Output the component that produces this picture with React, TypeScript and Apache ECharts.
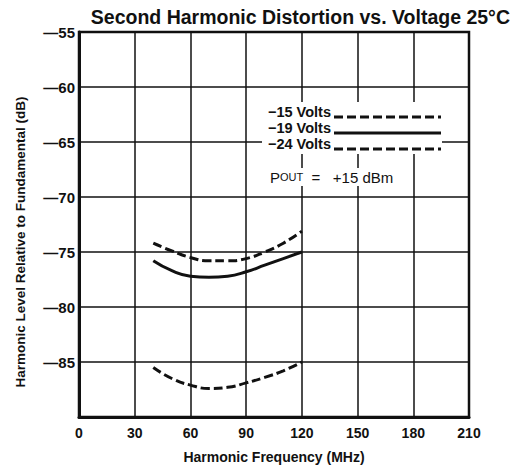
import React, { useEffect, useRef } from "react";
import * as echarts from "echarts";

const freq = [40, 50, 60, 70, 80, 90, 100, 110, 120];
const v15 = [-74.2, -74.9, -75.5, -75.8, -75.8, -75.6, -75.0, -74.2, -73.1];
const v19 = [-75.8, -76.7, -77.2, -77.3, -77.2, -76.8, -76.2, -75.6, -75.0];
const v24 = [-85.5, -86.5, -87.1, -87.4, -87.3, -86.9, -86.4, -85.8, -85.0];
const seriesNames = ["\u221215 Volts", "\u221219 Volts", "\u221224 Volts"];
const xTicks = [0, 30, 60, 90, 120, 150, 180, 210];

const FONT = "'Liberation Sans', Arial, sans-serif";

export default function App() {
  const ref = useRef<HTMLDivElement>(null);
  useEffect(() => {
    if (!ref.current) return;
    const chart = echarts.init(ref.current, null, { renderer: "svg" });
    const mk = (arr: number[]) => freq.map((f, i) => [f, arr[i]]);
    const lineStyle = (type: any) => ({ color: "#111", width: 3, type });
    const legendRows = [
      { name: seriesNames[0], y: 112, dash: [9, 4] },
      { name: seriesNames[1], y: 128, dash: null },
      { name: seriesNames[2], y: 144, dash: [9, 4] },
    ];
    const graphics: any[] = [
      { type: "rect", shape: { x: 262, y: 102, width: 180, height: 52 }, style: { fill: "#fff" }, z: 5 },
      { type: "rect", shape: { x: 268, y: 168, width: 125, height: 18 }, style: { fill: "#fff" }, z: 5 },
      {
        type: "text", x: 510, y: 17, z: 10,
        style: { text: "Second Harmonic Distortion vs. Voltage 25\u00b0C", font: `bold 19.5px ${FONT}`, fill: "#111", align: "right", verticalAlign: "middle" },
      },
      {
        type: "text", x: 20, y: 242, rotation: Math.PI / 2, z: 10,
        style: { text: "Harmonic Level Relative to Fundamental (dB)", font: `bold 13.5px ${FONT}`, fill: "#111", align: "center", verticalAlign: "middle" },
      },
      {
        type: "text", x: 274, y: 457, z: 10,
        style: { text: "Harmonic Frequency (MHz)", font: `bold 14px ${FONT}`, fill: "#111", align: "center", verticalAlign: "middle" },
      },
      {
        type: "text", x: 270, y: 177, z: 10,
        style: {
          rich: {
            a: { font: `15px ${FONT}`, fill: "#111" },
            b: { font: `11px ${FONT}`, fill: "#111" },
          },
          text: "{a|P}{b|OUT}{a|  =   +15 dBm}",
          verticalAlign: "middle",
        },
      },
    ];
    legendRows.forEach((r) => {
      graphics.push({
        type: "text", x: 331, y: r.y, z: 10,
        style: { text: r.name, font: `bold 14.5px ${FONT}`, fill: "#111", align: "right", verticalAlign: "middle" },
      });
      graphics.push({
        type: "line", z: 10,
        shape: { x1: 334, y1: r.y + 5, x2: 441, y2: r.y + 5 },
        style: { stroke: "#111", lineWidth: 3, lineDash: r.dash || undefined },
      });
    });
    chart.setOption({
      animation: false,
      backgroundColor: "#fff",
      grid: { left: 79, right: 43, top: 32, bottom: 54, show: true, borderColor: "#111", borderWidth: 2.5 },
      xAxis: {
        type: "value", min: 0, max: 210, interval: 30,
        axisLine: { show: true, lineStyle: { color: "#111", width: 3 } },
        axisTick: { show: false },
        splitLine: { show: true, lineStyle: { color: "#111", width: 1.5 } },
        axisLabel: { color: "#111", fontFamily: FONT, fontWeight: "bold", fontSize: 14, margin: 9 },
      },
      yAxis: {
        type: "value", min: -90, max: -55, interval: 5,
        axisLine: { show: true, lineStyle: { color: "#111", width: 3 } },
        axisTick: { show: false },
        splitLine: { show: true, lineStyle: { color: "#111", width: 1.5 } },
        axisLabel: {
          color: "#111", fontFamily: FONT, fontWeight: "bold", fontSize: 15, margin: 4,
          formatter: (v: number) => (v === -90 ? "" : "\u2014" + Math.abs(v)),
        },
      },
      graphic: graphics,
      series: [
        { name: seriesNames[0], type: "line", smooth: true, symbol: "none", data: mk(v15), lineStyle: lineStyle([9, 4]), z: 3 },
        { name: seriesNames[1], type: "line", smooth: true, symbol: "none", data: mk(v19), lineStyle: lineStyle("solid"), z: 3 },
        { name: seriesNames[2], type: "line", smooth: true, symbol: "none", data: mk(v24), lineStyle: lineStyle([9, 4]), z: 3 },
      ],
    });
    return () => chart.dispose();
  }, []);
  return <div ref={ref} style={{ width: 512, height: 471, position: "absolute", left: 0, top: 0 }} />;
}
